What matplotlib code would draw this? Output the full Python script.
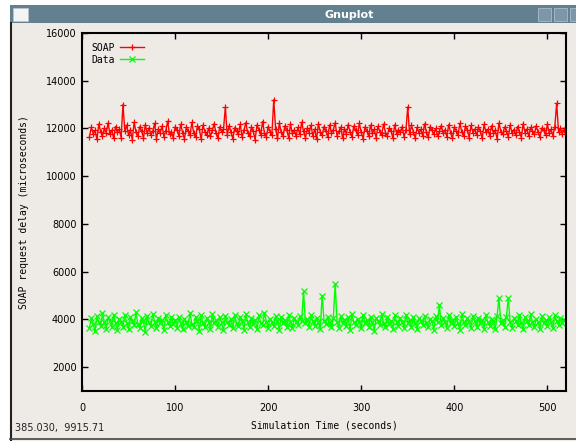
import numpy as np
import matplotlib.pyplot as plt
from matplotlib.patches import Rectangle

# simulation time (seconds), one sample every 2 s
t = np.arange(8, 520, 2)

soap = [
    11650, 12050, 11780, 11920, 11540, 12180, 11870, 11690, 12010, 11820, 12230, 11760, 11930, 11580, 12080, 11850,
    11970, 11620, 13000, 11880, 12140, 11710, 11950, 11530, 12260, 11840, 11680, 12070, 11900, 11600, 12150, 11790,
    12020, 11730, 11880, 12210, 11570, 11960, 11820, 12100, 11660, 11910, 12300, 11750, 11860, 11610, 12060, 11940,
    11700, 12170, 11830, 11560, 12040, 11890, 11720, 12250, 11810, 11640, 12090, 11970, 11550, 12130, 11870, 11740,
    12010, 11680, 11920, 12200, 11790, 11600, 12070, 11840, 11960, 12900, 11710, 12120, 11850, 11570, 12030, 11900,
    11760, 12180, 11640, 11930, 12240, 11820, 11690, 12060, 11880, 11530, 12150, 11950, 11740, 12290, 11810, 11660,
    12080, 11870, 11720, 13200, 11980, 11590, 12220, 11840, 11700, 12110, 11930, 11620, 12170, 11800, 11940, 11680,
    12040, 11750, 12260, 11880, 11610, 12000, 11830, 12130, 11690, 11970, 11560, 12190, 11860, 11730, 12080, 11910,
    11640, 12150, 11820, 11950, 12230, 11700, 11880, 12050, 11590, 11990, 11780, 12160, 11860, 11650, 12100, 11920,
    11730, 12210, 11840, 11570, 12060, 11910, 11680, 12140, 11800, 11960, 11620, 12090, 11870, 11740, 12180, 11830,
    11690, 12020, 11900, 11610, 12150, 11780, 11950, 11840, 12070, 11660, 11920, 12900, 11750, 12130, 11870, 11600,
    12040, 11810, 11960, 11700, 12190, 11850, 11630, 12080, 11920, 11760, 12000, 11690, 11880, 12120, 11800, 11940,
    11650, 12160, 11830, 11580, 12040, 11910, 11740, 12210, 11860, 11700, 12090, 11950, 11620, 12130, 11820, 11970,
    11720, 12050, 11880, 11600, 12170, 11840, 11960, 11690, 12110, 11810, 11930, 11560, 12230, 11870, 11750, 12060,
    11900, 11640, 12140, 11800, 11950, 11710, 12080, 11860, 11620, 12190, 11830, 11970, 11680, 12040, 11890, 11760,
    12110, 11850, 11650, 12020, 11930, 11720, 12170, 11800, 11960, 11690, 12080, 13050, 11870, 12000, 11780, 11940,
]

data = [
    3650, 4050, 3820, 3500, 4150, 3900, 3720, 4250, 3880, 3600, 4080, 3950, 3680, 4200, 3840, 3560,
    4020, 3890, 3700, 4180, 3860, 3590, 4100, 3930, 3750, 4290, 3810, 3640, 4060, 3920, 3480, 4140,
    3870, 3710, 4230, 3900, 3620, 4070, 3840, 3960, 3550, 4190, 3880, 3730, 4110, 3790, 3990, 3660,
    4120, 3850, 3580, 4030, 3910, 3740, 4260, 3820, 3670, 4090, 3940, 3520, 4170, 3860, 3700, 4040,
    3890, 3610, 4220, 3830, 3960, 3690, 4080, 3870, 3540, 4150, 3910, 3760, 4020, 3640, 4190, 3850,
    3720, 4100, 3930, 3570, 4240, 3880, 3680, 4060, 3820, 3990, 3600, 4170, 3860, 3750, 4280, 3900,
    3650, 4030, 3870, 3710, 4140, 3930, 3560, 4090, 3840, 3970, 3690, 4200, 3880, 3620, 4050, 3910,
    3780, 4130, 3920, 5200, 3860, 4020, 3690, 4180, 3940, 3730, 4070, 3890, 3600, 5000, 3950, 3820,
    4110, 3870, 3700, 4040, 5500, 3910, 3640, 4160, 3850, 3990, 3720, 4080, 3560, 4210, 3880, 3760,
    4030, 3900, 3620, 4190, 3840, 3980, 3700, 4120, 3870, 3530, 4060, 3930, 3760, 4230, 3850, 3680,
    4090, 3810, 3950, 3590, 4170, 3880, 3740, 4040, 3910, 3650, 4200, 3860, 3990, 3700, 4110, 3830,
    3610, 4070, 3940, 3780, 4150, 3850, 3690, 4010, 3920, 3560, 4130, 3880, 4600, 3750, 4060, 3900,
    3640, 4180, 3860, 3990, 3720, 4100, 3830, 3570, 4240, 3910, 3770, 4050, 3880, 3660, 4140, 3930,
    3700, 4070, 3850, 3960, 3610, 4200, 3890, 3740, 4030, 3920, 3580, 4160, 4900, 3830, 3980, 3690,
    4110, 4900, 3870, 3640, 4050, 3940, 3770, 4190, 3860, 3600, 4080, 3920, 3750, 4210, 3880, 3680,
    4020, 3900, 3590, 4150, 3840, 3970, 3710, 4090, 3880, 3620, 4170, 3930, 3760, 4040, 3850, 3960,
]

xticks = [0, 100, 200, 300, 400, 500]
yticks = [2000, 4000, 6000, 8000, 10000, 12000, 14000, 16000]

bg = '#eeebe7'
mono = 'DejaVu Sans Mono'

fig = plt.figure(figsize=(5.76, 4.41), dpi=100, facecolor='white')

# window chrome
fig.add_artist(Rectangle((0.017, 0.0), 0.983, 0.948, transform=fig.transFigure,
                         facecolor=bg, edgecolor='none', zorder=-5))
fig.add_artist(Rectangle((0.017, 0.948), 0.983, 0.040, transform=fig.transFigure,
                         facecolor='#62808f', edgecolor='none', zorder=-4))
fig.add_artist(Rectangle((0.022, 0.953), 0.026, 0.028, transform=fig.transFigure,
                         facecolor='#f4f4f4', edgecolor='#c0c8d0', lw=0.5, zorder=-3))
for bx in [0.934, 0.962, 0.990]:
    fig.add_artist(Rectangle((bx, 0.952), 0.022, 0.030, transform=fig.transFigure,
                             facecolor='#7d97a8', edgecolor='#a9bccb', lw=0.6, zorder=-3))
fig.text(0.606, 0.967, 'Gnuplot', color='white', fontsize=8, fontweight='bold',
         ha='center', va='center')
fig.add_artist(plt.Line2D([0.019, 0.019], [0.0, 0.948], transform=fig.transFigure,
                          color='#222222', lw=1.5))
fig.add_artist(plt.Line2D([0.017, 1.0], [0.004, 0.004], transform=fig.transFigure,
                          color='#444444', lw=1.2))
fig.text(0.026, 0.03, '385.030,  9915.71', fontsize=7, color='#222222', va='center')

ax = fig.add_axes([0.1424, 0.1134, 0.8402, 0.8118])
ax.set_facecolor(bg)
ax.plot(t, soap, color='#ff0000', lw=1.0, marker='+', ms=5, mew=0.9, label='SOAP')
ax.plot(t, data, color='#00ff00', lw=1.0, marker='x', ms=4, mew=0.9, label='Data')

ax.set_xlim(0, 520)
ax.set_ylim(1000, 16000)
ax.set_xticks(xticks)
ax.set_yticks(yticks)
ax.tick_params(direction='in', length=4, width=1, labelsize=7, top=True, right=True, pad=9)
ax.tick_params(axis='y', pad=4)
for s in ax.spines.values():
    s.set_linewidth(1.5)

ax.set_xlabel('Simulation Time (seconds)', fontsize=7, family=mono, labelpad=5)
ax.set_ylabel('SOAP request delay (microseconds)', fontsize=7, family=mono, labelpad=12)

leg = ax.legend(loc='upper left', frameon=False, markerfirst=False,
                prop={'family': mono, 'size': 7}, handlelength=2.5, handletextpad=0.5,
                labelspacing=0.2, borderaxespad=0.6)

fig.savefig('out.png', dpi=100, facecolor=fig.get_facecolor())
